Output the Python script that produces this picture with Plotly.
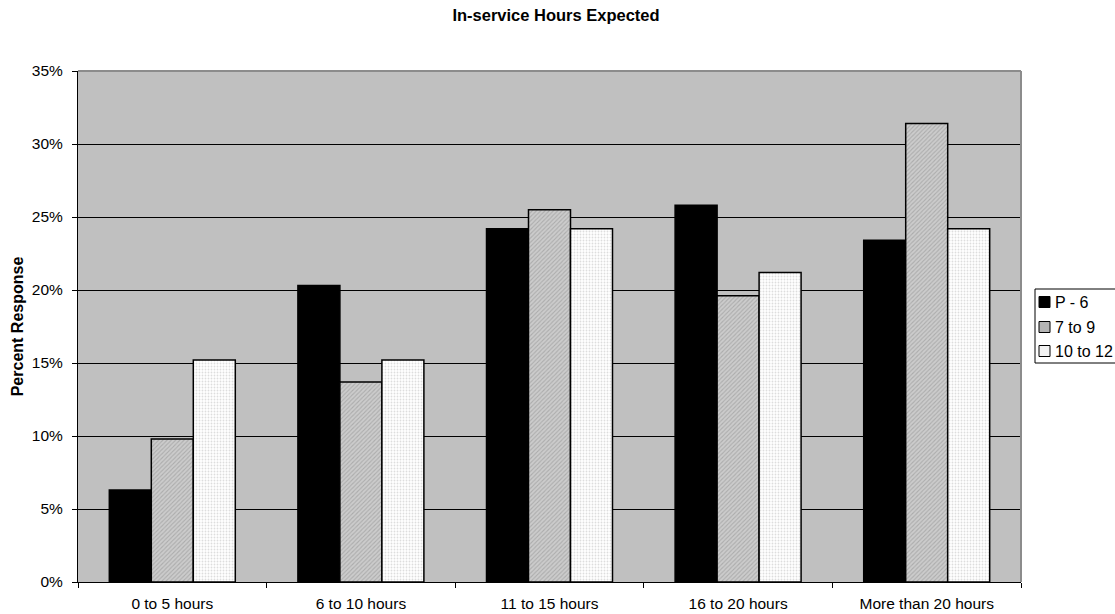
import plotly.graph_objects as go

categories = ["0 to 5 hours", "6 to 10 hours", "11 to 15 hours", "16 to 20 hours", "More than 20 hours"]
series_names = ["P - 6", "7 to 9", "10 to 12"]
p6 = [0.063, 0.203, 0.242, 0.258, 0.234]
g7_9 = [0.098, 0.137, 0.255, 0.196, 0.314]
g10_12 = [0.152, 0.152, 0.242, 0.212, 0.242]
y_ticks = [0, 0.05, 0.10, 0.15, 0.20, 0.25, 0.30, 0.35]

FONT = "Liberation Sans, Arial, sans-serif"
W, H = 1115, 614
L, R, T, B = 78, 94, 71, 32
PW, PH = W - L - R, H - T - B


def px(fx):
    return (fx - L) / PW


def py(fy):
    return (H - B - fy) / PH


fills = [
    dict(color="#000000", line=dict(color="#000000", width=1.5)),
    dict(color="#c4c4c4", line=dict(color="#000000", width=1.5),
         pattern=dict(shape="/", fgcolor="#8c8c8c", bgcolor="#cccccc", size=3, solidity=0.35)),
    dict(color="#ffffff", line=dict(color="#000000", width=1.5),
         pattern=dict(shape=".", fgcolor="#bcbcbc", bgcolor="#ffffff", size=3, solidity=0.3)),
]
legend_swatch = ["#000000", "#b4b4b4", "#f2f2f2"]

fig = go.Figure()
for name, vals, mk in zip(series_names, [p6, g7_9, g10_12], fills):
    fig.add_trace(go.Bar(name=name, x=categories, y=vals, marker=mk))

shapes = [
    dict(type="line", xref="paper", yref="paper", x0=0, x1=1, y0=1, y1=1,
         line=dict(color="#8c8c8c", width=2), layer="above"),
    dict(type="line", xref="paper", yref="paper", x0=1, x1=1, y0=0, y1=1,
         line=dict(color="#8c8c8c", width=2), layer="above"),
    # legend box
    dict(type="rect", xref="paper", yref="paper", x0=px(1035), x1=px(1125), y0=py(289), y1=py(363),
         line=dict(color="#000000", width=1), fillcolor="#ffffff", layer="above"),
]
annotations = []
row_y = [302, 327, 351]
for name, sw, ry in zip(series_names, legend_swatch, row_y):
    shapes.append(dict(type="rect", xref="paper", yref="paper",
                       x0=px(1039), x1=px(1050), y0=py(ry + 5.5), y1=py(ry - 5.5),
                       line=dict(color="#000000", width=1), fillcolor=sw, layer="above"))
    annotations.append(dict(text=name, xref="paper", yref="paper", x=px(1053), y=py(ry),
                            xanchor="left", yanchor="middle", showarrow=False,
                            font=dict(size=16, family=FONT, color="#000000")))

fig.update_layout(
    width=W, height=H,
    margin=dict(l=L, r=R, t=T, b=B),
    paper_bgcolor="#ffffff",
    plot_bgcolor="#c0c0c0",
    barmode="group",
    bargap=0.332,
    bargroupgap=0,
    font=dict(family=FONT, size=15.5, color="#000000"),
    title=dict(text="<b>In-service Hours Expected</b>", x=556 / W, xanchor="center",
               y=1 - 15 / H, yanchor="middle", font=dict(size=16.5)),
    showlegend=False,
    shapes=shapes,
    annotations=annotations,
)
fig.update_xaxes(showline=True, linecolor="#000000", linewidth=1, automargin=False,
                 ticks="outside", tickson="boundaries", ticklen=5, tickcolor="#000000",
                 showgrid=False, tickfont=dict(size=15.5), ticklabelstandoff=7)
fig.update_yaxes(range=[0, 0.35], tickvals=y_ticks, tickformat=".0%", automargin=False,
                 showline=True, linecolor="#000000", linewidth=1,
                 ticks="outside", ticklen=5, tickcolor="#000000",
                 showgrid=True, gridcolor="#000000", gridwidth=1,
                 zeroline=False, tickfont=dict(size=15.5), ticklabelstandoff=6,
                 title=dict(text="<b>Percent Response</b>", font=dict(size=16), standoff=4))

fig.write_html("out.html", config={"displayModeBar": False},
               post_script="document.body.style.margin='0px';document.body.style.overflow='hidden';")
